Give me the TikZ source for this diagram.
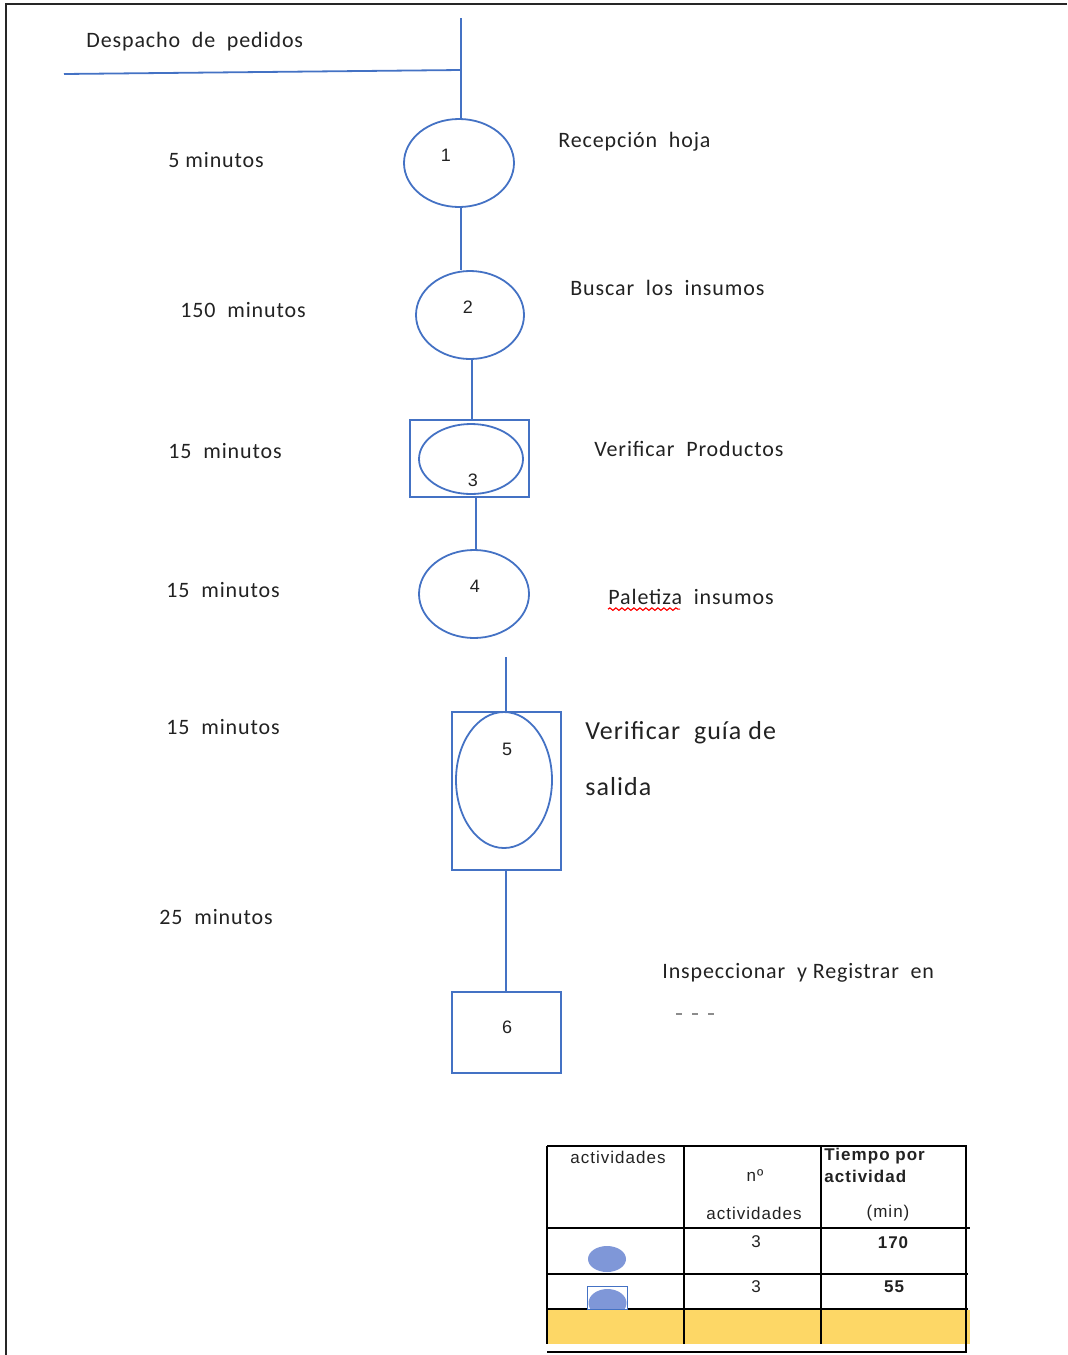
\documentclass[tikz,border=0pt]{standalone}
\usepackage{fontspec}
\setmainfont[LetterSpace=4]{Carlito}
\newfontfamily\tablafont[LetterSpace=6]{Liberation Sans}
\usetikzlibrary{shapes.geometric,positioning,decorations.pathmorphing}
\definecolor{azul}{HTML}{4472C4}
\definecolor{relleno}{HTML}{7F97D8}
\definecolor{amarillo}{HTML}{FDD766}
\definecolor{texto}{HTML}{222222}
\tikzset{
    %Define style for the activity ellipses
    circulo/.style={
           ellipse,
           draw=azul, line width=0.9pt,
           inner sep=0pt},
    %Define style for the boxes
    caja/.style={
           rectangle,
           draw=azul, line width=0.9pt,
           inner sep=0pt},
    % Define connector style
    linea/.style={
           draw=azul,
           line width=0.9pt},
    % Define text styles
    etiqueta/.style={
           anchor=west,
           inner sep=0pt,
           text=texto,
           font=\fontsize{11}{13}\selectfont},
    numero/.style={
           inner sep=0pt,
           text=texto,
           font=\tablafont\fontsize{9}{11}\selectfont},
    celda/.style={
           inner sep=0pt,
           text=texto,
           font=\tablafont\fontsize{8.5}{10}\selectfont}
}
\begin{document}
\begin{tikzpicture}[x=0.5pt,y=-0.5pt]
     \useasboundingbox (0,0) rectangle (1067,1355);
     % page frame
     \draw[line width=1pt, black!85] (1067,4) -- (6,4) -- (6,1355);

     % header
     \node[etiqueta] (despacho) at (86,42) {Despacho\ \ de\ \ pedidos};
     \coordinate (arriba) at (461,18);
     \coordinate (izq) at (64,74);
     \coordinate (cruce) at (461,70);
     \draw[linea] (izq) -- (cruce);

     % activities
     \node[circulo, minimum width=55pt, minimum height=44pt] (e1) at (459,163) {};
     \node[numero] (n1) at (446,155) {1};
     \node[circulo, minimum width=54pt, minimum height=44pt] (e2) at (470,315) {};
     \node[numero] (n2) at (468,307) {2};
     \node[caja, minimum width=59.5pt, minimum height=38.5pt] (b3) at (469.5,458.5) {};
     \node[circulo, minimum width=52pt, minimum height=35pt] (e3) at (471,459) {};
     \node[numero] (n3) at (473,480) {3};
     \node[circulo, minimum width=55pt, minimum height=44pt] (e4) at (474,594) {};
     \node[numero] (n4) at (475,586) {4};
     \node[caja, minimum width=54.5pt, minimum height=79pt] (b5) at (506.5,791) {};
     \node[circulo, minimum width=48pt, minimum height=68pt] (e5) at (504,780) {};
     \node[numero] (n5) at (507,749) {5};
     \node[caja, minimum width=54.5pt, minimum height=40.5pt] (b6) at (506.5,1032.5) {};
     \node[numero] (n6) at (507,1027) {6};

     % connectors
     \draw[linea] (arriba) -- (arriba |- e1.north);
     \draw[linea] (e1.south -| cruce) -- (cruce |- e2.north);
     \coordinate (c3) at (472,360);
     \draw[linea] (c3) -- (c3 |- b3.north);
     \coordinate (c4) at (476,497);
     \draw[linea] (c4) -- (c4 |- e4.north);
     \coordinate (c5) at (506,657);
     \draw[linea] (c5) -- (c5 |- b5.north);
     \draw[linea] (c5 |- b5.south) -- (c5 |- b6.north);

     % times
     \node[etiqueta] (t1) at (168,160) {5 minutos};
     \node[etiqueta] (t2) at (180,310) {150\ \ minutos};
     \node[etiqueta] (t3) at (168,451) {15\ \ minutos};
     \node[etiqueta] (t4) at (166,590) {15\ \ minutos};
     \node[etiqueta] (t5) at (166,727) {15\ \ minutos};
     \node[etiqueta] (t6) at (159,917) {25\ \ minutos};

     % descriptions
     \node[etiqueta] (d1) at (558,142) {Recepción\ \ hoja};
     \node[etiqueta] (d2) at (570,288) {Buscar\ \ los\ \ insumos};
     \node[etiqueta] (d3) at (594,449) {Verificar\ \ Productos};
     \node[etiqueta] (d4) at (608,597) {Paletiza\ \ insumos};
     \draw[red, line width=0.6pt, decorate,
           decoration={snake, amplitude=0.6pt, segment length=3pt}]
           (d4.south west) ++(0,4) -- ++(72,0);
     \node[etiqueta, font=\fontsize{13}{15}\selectfont] (d5) at (585,733) {Verificar\ \ guía de};
     \node[etiqueta, font=\fontsize{13}{15}\selectfont] (d5b) at (585,787) {salida};
     \node[etiqueta] (d6) at (662,973) {Inspeccionar\ \ y Registrar\ \ en};
     \draw[black!45, line width=0.8pt, dash pattern=on 3pt off 5pt] (676,1014) -- (722,1014);

     % summary table
     \fill[amarillo] (547,1310) rectangle (970,1344);
     \draw[line width=0.9pt] (547,1146) -- (967,1146);
     \draw[line width=0.9pt] (547,1228) -- (970,1228);
     \draw[line width=0.9pt] (547,1274) -- (968,1274);
     \draw[line width=0.9pt] (547,1309) -- (968,1309);
     \draw[line width=0.9pt] (547,1352) -- (967,1352);
     \draw[line width=0.9pt] (547,1146) -- (547,1344);
     \draw[line width=0.9pt] (684,1146) -- (684,1344);
     \draw[line width=0.9pt] (821,1146) -- (821,1344);
     \draw[line width=0.9pt] (966,1146) -- (966,1352);

     \node[celda] (h1) at (618,1157) {actividades};
     \node[celda] (h2) at (755,1176) {nº};
     \node[celda] (h2b) at (754,1213) {actividades};
     \node[celda, anchor=west, font=\tablafont\fontsize{8.5}{10}\selectfont\bfseries] (h3) at (824,1156) {Tiempo por};
     \node[celda, anchor=west, font=\tablafont\fontsize{8.5}{10}\selectfont\bfseries] (h3b) at (824,1176) {actividad};
     \node[celda] (h3c) at (888,1213) {(min)};

     \node[ellipse, fill=relleno, minimum width=19pt, minimum height=13pt, inner sep=0pt] (s1) at (607,1259) {};
     \node[celda] (r1a) at (756,1242) {3};
     \node[celda, font=\tablafont\fontsize{8.5}{10}\selectfont\bfseries] (r1b) at (893,1243) {170};

     \node[rectangle, fill=white, minimum width=19.5pt, minimum height=11pt, inner sep=0pt] (s2) at (607.5,1298) {};
     \begin{scope}
       \clip (s2.south west) rectangle (s2.north east);
       \fill[relleno] (607.5,1303) ellipse (9.5pt and 7pt);
     \end{scope}
     \draw[azul, line width=0.8pt] (s2.south west) rectangle (s2.north east);
     \node[celda] (r2a) at (756,1287) {3};
     \node[celda, font=\tablafont\fontsize{8.5}{10}\selectfont\bfseries] (r2b) at (894,1287) {55};
\end{tikzpicture}
\end{document}
